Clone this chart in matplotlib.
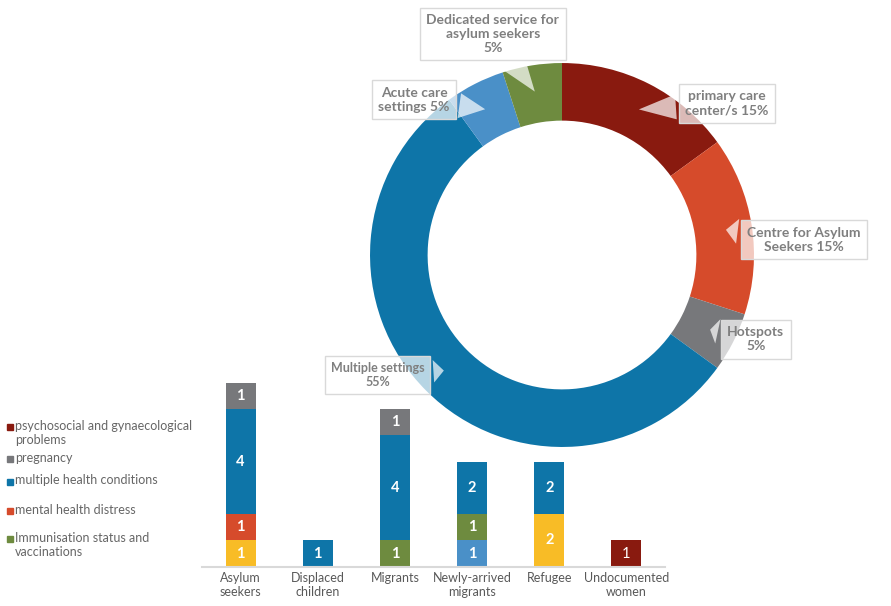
import numpy as np
import matplotlib.pyplot as plt
from matplotlib.patches import Rectangle

plt.rcParams['font.family'] = ['Lato', 'DejaVu Sans']

# Care settings (donut), clockwise from the top
settings = ["primary care\ncenter/s", "Centre for Asylum\nSeekers", "Hotspots",
            "Multiple settings", "Acute care\nsettings", "Dedicated service for\nasylum seekers"]
setting_sep = [" ", " ", "\n", "\n", " ", "\n"]
setting_shares = [15, 15, 5, 55, 5, 5]
setting_colors = ['#891A0F', '#D64B2B', '#77787B', '#0E75A8', '#4A90C8', '#6E8B3F']

# Population groups (stacked bars)
groups = ["Asylum\nseekers", "Displaced\nchildren", "Migrants",
          "Newly-arrived\nmigrants", "Refugee", "Undocumented\nwomen"]

# stacked bottom to top
series_yellow = [1, 0, 0, 0, 2, 0]
series_lightblue = [0, 0, 0, 1, 0, 0]
immunisation = [0, 0, 1, 1, 0, 0]
mental_health = [1, 0, 0, 0, 0, 0]
multiple_conditions = [4, 1, 4, 2, 2, 0]
pregnancy = [1, 0, 1, 0, 0, 0]
psychosocial = [0, 0, 0, 0, 0, 1]

stack = [series_yellow, series_lightblue, immunisation, mental_health,
         multiple_conditions, pregnancy, psychosocial]
stack_colors = ['#F8BC26', '#4A90C8', '#6E8B3F', '#D64B2B', '#0E75A8', '#77787B', '#891A0F']
stack_names = [None, None, "Immunisation status and\nvaccinations", "mental health distress",
               "multiple health conditions", "pregnancy",
               "psychosocial and gynaecological\nproblems"]

fig = plt.figure(figsize=(8.91, 6.06), dpi=100)

# ---- donut ----
ax_d = fig.add_axes([0.4063, 0.2492, 0.4489, 0.660])
ax_d.pie(setting_shares, colors=setting_colors, startangle=90, counterclock=False,
         radius=1, wedgeprops=dict(width=0.30, linewidth=0))
ax_d.set_xlim(-1.0417, 1.0417)
ax_d.set_ylim(-1.0417, 1.0417)
ax_d.set_aspect('equal')
ax_d.axis('off')

label_pos = [(0.86, 0.79), (1.26, 0.08), (1.01, -0.44), (-0.96, -0.625),
             (-0.77, 0.81), (-0.36, 1.15)]
label_size = [10, 10, 10, 9, 10, 10]
angle = 90.0
total = sum(setting_shares)
for name, sep, share, pos, fs in zip(settings, setting_sep, setting_shares, label_pos, label_size):
    sweep = 360.0 * share / total
    mid = np.deg2rad(angle - sweep / 2)
    angle -= sweep
    tip = (0.85 * np.cos(mid), 0.85 * np.sin(mid))
    pct = round(100 * share / total)
    ax_d.annotate(f"{name}{sep}{pct}%", xy=tip, xytext=pos,
                  ha='center', va='center', multialignment='center',
                  fontsize=fs, fontweight='bold', color='#7F7F7F', linespacing=1.2,
                  annotation_clip=False,
                  bbox=dict(boxstyle='square,pad=0.45', fc=(1, 1, 1, 0.7), ec='#D9D9D9', lw=1),
                  arrowprops=dict(arrowstyle='wedge,tail_width=1.8,shrink_factor=0.5',
                                  fc=(1, 1, 1, 0.7), ec='none'))

# ---- stacked bars ----
ax_b = fig.add_axes([0.2267, 0.0649, 0.5196, 0.3036])
x = np.arange(len(groups))
bottom = np.zeros(len(groups))
for vals, col in zip(stack, stack_colors):
    vals = np.array(vals)
    bars = ax_b.bar(x, vals, 0.39, bottom=bottom, color=col, linewidth=0)
    for rect, v in zip(bars, vals):
        if v == 0:
            continue
        weight = 'normal' if col == '#891A0F' else 'bold'
        ax_b.text(rect.get_x() + rect.get_width() / 2, rect.get_y() + rect.get_height() / 2,
                  str(v), ha='center', va='center', color='white', fontsize=10.5,
                  fontweight=weight)
    bottom += vals

ax_b.set_xlim(-0.5, len(groups) - 0.5)
ax_b.set_ylim(0, 7)
ax_b.set_xticks(x)
ax_b.set_xticklabels(groups, fontsize=9, color='#595959', linespacing=1.2)
ax_b.tick_params(axis='x', length=0, pad=4)
ax_b.set_yticks([])
for side in ['top', 'right', 'left']:
    ax_b.spines[side].set_visible(False)
ax_b.spines['bottom'].set_color('#D9D9D9')
ax_b.spines['bottom'].set_linewidth(1.5)
ax_b.patch.set_alpha(0)

# ---- legend, top entry first ----
legend_y = [427, 459, 482, 511, 539]
entries = [(n, c) for n, c in zip(stack_names, stack_colors) if n is not None][::-1]
for (name, col), py in zip(entries, legend_y):
    fy = 1 - py / 606
    fig.patches.append(Rectangle((7 / 891, fy - 3 / 606), 6 / 891, 6 / 606,
                                 transform=fig.transFigure, color=col, figure=fig))
    fig.text(15 / 891, fy + 7.5 / 606, name, ha='left', va='top', fontsize=9,
             color='#666666', linespacing=1.2)

fig.savefig('out.png', dpi=100)
